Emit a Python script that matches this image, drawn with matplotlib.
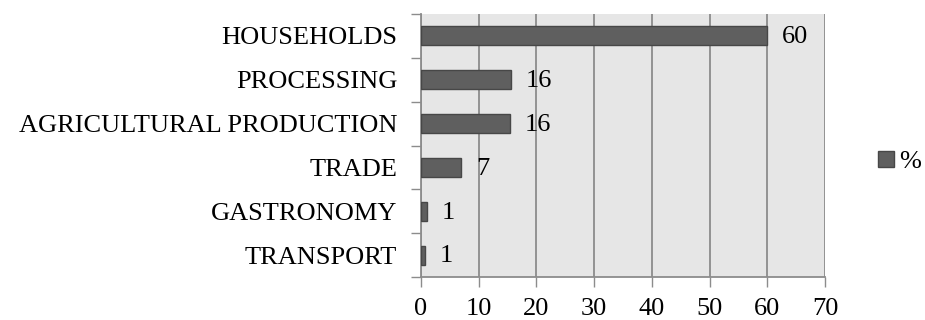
import matplotlib
matplotlib.use("Agg")
import matplotlib.pyplot as plt
from matplotlib.ticker import FixedLocator

SECTORS = [
    "HOUSEHOLDS",
    "PROCESSING",
    "AGRICULTURAL PRODUCTION",
    "TRADE",
    "GASTRONOMY",
    "TRANSPORT",
]
SHARE = [60.0, 15.6, 15.5, 7.0, 1.1, 0.7]
SERIES_NAME = "%"

BAR_COLOR = "#5f5f5f"
EDGE_COLOR = "#474747"
GRID_COLOR = "#8c8c8c"
FS = 19


def plot_sectors():
    plt.rcParams["font.family"] = ["Liberation Serif", "DejaVu Serif"]
    fig = plt.figure(figsize=(9.25, 3.2), dpi=100)
    ax = fig.add_axes([421 / 925, 1 - 277 / 320, 404 / 925, 263 / 320])
    ax.set_facecolor("#e6e6e6")

    # first sector drawn at the top
    pos = list(range(len(SECTORS)))[::-1]
    bars = ax.barh(pos, SHARE, height=0.43, color=BAR_COLOR,
                   edgecolor=EDGE_COLOR, linewidth=1, label=SERIES_NAME, zorder=3)

    for b, v in zip(bars, SHARE):
        ax.annotate("{:.0f}".format(v), xy=(b.get_width(), b.get_y() + b.get_height() / 2),
                    xytext=(10.5, -1), textcoords="offset points",
                    ha="left", va="center", fontsize=FS, zorder=4)

    ax.set_xlim(0, 70)
    ax.set_ylim(-0.5, len(SECTORS) - 0.5)
    ax.set_xticks(range(0, 71, 10))
    ax.set_yticks(pos)
    ax.set_yticklabels(SECTORS)
    ax.yaxis.set_minor_locator(FixedLocator([p - 0.5 for p in range(len(SECTORS) + 1)]))
    ax.tick_params(axis="y", which="major", length=0, pad=17, labelsize=FS)
    ax.tick_params(axis="y", which="minor", length=7, color=GRID_COLOR, width=1)
    ax.tick_params(axis="x", length=7, color=GRID_COLOR, width=1, labelsize=FS, pad=8)

    ax.grid(axis="x", color=GRID_COLOR, linewidth=1.3, zorder=1)
    ax.spines["top"].set_visible(False)
    ax.spines["right"].set_visible(False)
    for s in ["left", "bottom"]:
        ax.spines[s].set_color(GRID_COLOR)
        ax.spines[s].set_linewidth(1.3)

    fig.legend(loc="center left", bbox_to_anchor=(878 / 925, 1 - 162 / 320),
               frameon=False, fontsize=FS, handlelength=0.6, handleheight=0.6,
               handletextpad=0.2, borderpad=0, borderaxespad=0)
    fig.savefig("out.png", dpi=100)


if __name__ == "__main__":
    plot_sectors()
